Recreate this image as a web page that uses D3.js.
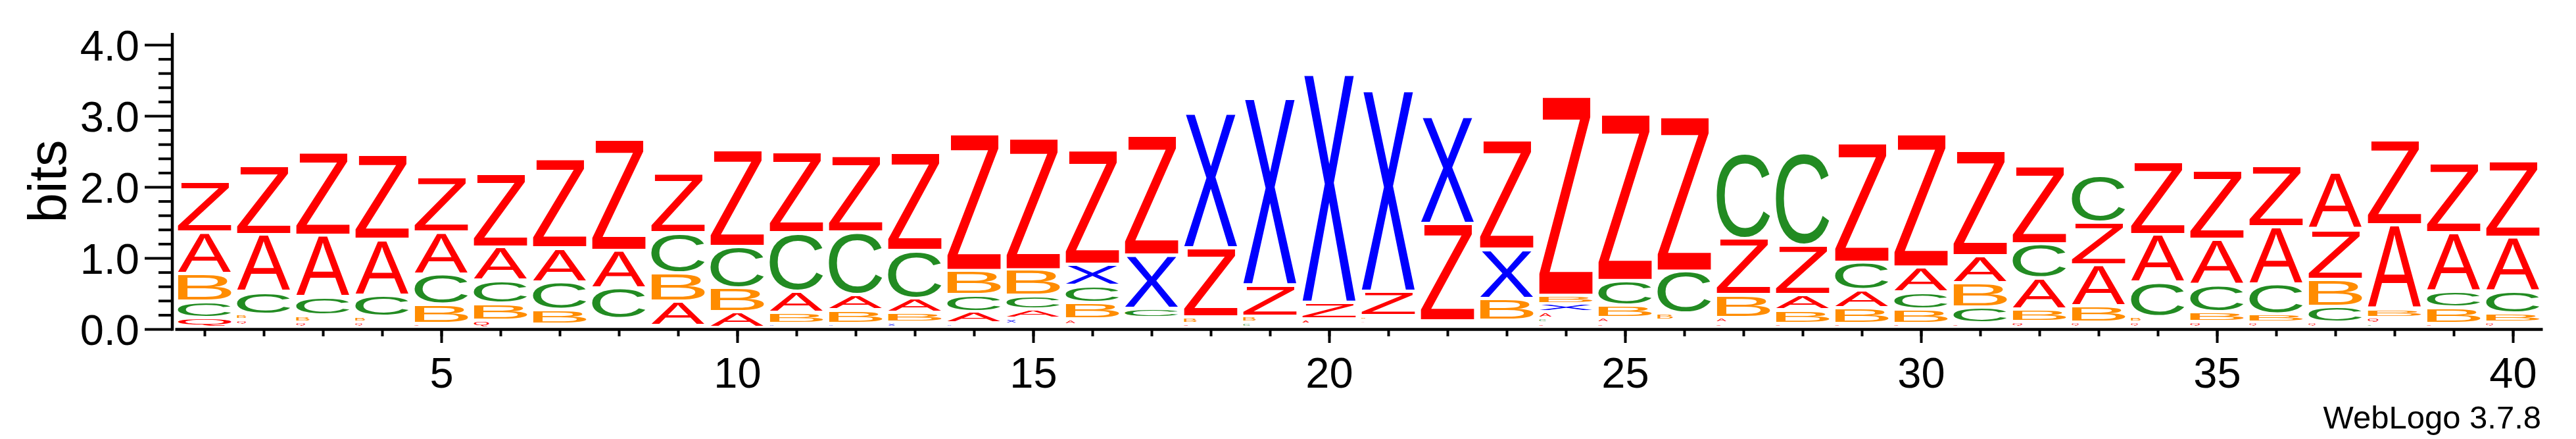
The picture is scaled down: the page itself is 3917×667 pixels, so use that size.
<!DOCTYPE html>
<html><head><meta charset="utf-8">
<script src="https://cdn.jsdelivr.net/npm/d3@7"></script>
<style>html,body{margin:0;padding:0;background:#fff;} svg{display:block;}</style>
</head><body>
<svg id="chart" width="3917" height="667"></svg>
<script>
// ---------- data ----------
const positions = [1,2,3,4,5,6,7,8,9,10,11,12,13,14,15,16,17,18,19,20,21,22,23,24,25,26,27,28,29,30,31,32,33,34,35,36,37,38,39,40];
const letters = ["Q","A","B","C","X","Z"];
const bitsZ = [.71,.97,1.17,1.20,.78,1.04,1.26,1.56,.84,1.36,1.14,1.08,1.39,1.93,1.86,1.61,1.69,.97,.44,.235,.345,1.37,1.54,2.81,2.35,2.18,.79,.70,1.68,1.88,1.48,1.10,.60,1.03,.97,.86,.70,1.20,.98,1.08];
const bitsA = [.58,.81,.874,.79,.59,.47,.48,.53,.34,.22,.30,.21,.20,.16,.13,.08,.05,0,0,.07,.055,.046,.051,.09,.08,.051,.08,.21,.25,.35,.38,.44,.58,.68,.64,.81,.80,1.18,.82,.76];
const bitsB = [.39,.078,.093,.08,.27,.235,.20,.051,.40,.34,.15,.19,.14,.34,.36,.23,.044,.09,.09,0,.06,0,.31,.116,.17,.10,.32,.19,.22,.20,.34,.18,.23,.08,.14,.12,.38,.12,.22,.13];
const bitsC = [.23,.315,.256,.30,.42,.325,.39,.43,.56,.58,.82,.88,.67,.24,.19,.24,.13,0,.07,0,0,0,0,.07,.35,.59,1.21,1.30,.39,.24,.23,.48,.65,.48,.38,.42,.23,.057,.23,.31];
const bitsX = [0,.03,0,0,0,0,0,.02,.03,0,.06,.06,.07,.06,.08,.30,.75,1.90,2.63,3.215,2.83,1.50,.69,.115,0,0,0,0,0,0,0,0,0,0,0,0,0,0,0,0];
const bitsQ = [.14,.077,.077,.07,.06,.10,.05,.05,0,0,0,0,0,0,.05,.04,.045,.06,0,.05,.05,.045,.05,.06,.06,.05,.06,.06,.06,.06,.06,.08,.07,.07,.08,.07,.07,.083,.06,.07];
const yMajor = [0,1,2,3,4];
const yMinor = [0.2,0.4,0.6,0.8,1.2,1.4,1.6,1.8,2.2,2.4,2.6,2.8,3.2,3.4,3.6,3.8];
const xMajor = [5,10,15,20,25,30,35,40];
const yLabel = "bits";
const fineprint = "WebLogo 3.7.8";
const colors = {Q:"#ff0000", A:"#ff0000", Z:"#ff0000", B:"#ff8c00", C:"#228b22", X:"#0000ff"};

// ---------- setup ----------
const heights = {Q:bitsQ, A:bitsA, B:bitsB, C:bitsC, X:bitsX, Z:bitsZ};
const FONT = "'Liberation Sans', Arial, Helvetica, sans-serif";
const svg = d3.select("#chart");
svg.append("rect").attr("width",3917).attr("height",667).attr("fill","#fff");

const x = d3.scaleLinear().domain([0.5, 40.5]).range([266, 3866]);
const y = d3.scaleLinear().domain([0, 4]).range([500, 68]);
const colW = x(1.5) - x(0.5);
const glyphW = colW * 0.9;
const gap = 5;

// glyph ink metrics
const REF = 200;
const ctx = document.createElement("canvas").getContext("2d");
ctx.font = REF + "px 'Liberation Sans'";
const metrics = {};
letters.forEach(l => {
  const m = ctx.measureText(l);
  metrics[l] = {L: m.actualBoundingBoxLeft, R: m.actualBoundingBoxRight, A: m.actualBoundingBoxAscent, D: m.actualBoundingBoxDescent};
});

// stacks (sorted smallest at bottom)
const glyphs = [];
positions.forEach((p, i) => {
  const items = letters.map(l => ({letter: l, h: heights[l][i], pos: p}))
    .filter(d => d.h > 0).sort((a, b) => a.h - b.h);
  let base = 0;
  items.forEach(d => { d.y0 = base; base += d.h; d.y1 = base; glyphs.push(d); });
});

const logo = svg.append("g");
logo.selectAll("text").data(glyphs.filter(d => (y(d.y0) - gap - y(d.y1)) > 0.8)).join("text")
  .text(d => d.letter)
  .attr("font-family", FONT)
  .attr("font-size", REF)
  .attr("fill", d => colors[d.letter])
  .attr("transform", d => {
    const m = metrics[d.letter];
    const top = y(d.y1);
    const gh = y(d.y0) - gap - top;
    const w = gh < 6 ? Math.min(glyphW, gh * 4) : glyphW;
    const left = x(d.pos) - glyphW / 2;
    const sx = w / (m.L + m.R), sy = gh / (m.A + m.D);
    return `translate(${left},${top}) scale(${sx},${sy}) translate(${m.L},${m.A})`;
  });

// ---------- axes ----------
const yAxisG = svg.append("g").attr("transform", "translate(262,0)");
yAxisG.append("g").call(d3.axisLeft(y).tickValues(yMinor).tickSize(21).tickFormat(""))
  .call(g => g.select(".domain").remove());
yAxisG.append("g").call(d3.axisLeft(y).tickValues(yMajor).tickSize(42).tickPadding(8).tickFormat(d3.format(".1f")))
  .call(g => g.select(".domain").remove())
  .call(g => g.selectAll("text").attr("dy", "0.36em").attr("font-size", 65).attr("font-family", FONT).attr("fill", "#000"));
yAxisG.selectAll(".tick line").attr("stroke", "#000").attr("stroke-width", 4);
yAxisG.append("line").attr("x1", 0).attr("x2", 0).attr("y1", y(0) + 2.5).attr("y2", y(4) - 18)
  .attr("stroke", "#000").attr("stroke-width", 4.5);

const xAxisG = svg.append("g").attr("transform", "translate(0,500)");
xAxisG.append("g").call(d3.axisBottom(x).tickValues(positions).tickSize(11).tickSizeOuter(0).tickFormat(""))
  .call(g => g.select(".domain").attr("stroke", "#000").attr("stroke-width", 4.5));
xAxisG.append("g").call(d3.axisBottom(x).tickValues(xMajor).tickSize(21).tickPadding(22).tickFormat(d3.format("d")))
  .call(g => g.select(".domain").remove())
  .call(g => g.selectAll("text").attr("font-size", 65).attr("font-family", FONT).attr("fill", "#000"));
xAxisG.selectAll(".tick line").attr("stroke", "#000").attr("stroke-width", 4);

svg.append("text").attr("transform", "translate(100,275.5) rotate(-90)")
  .attr("text-anchor", "middle").attr("font-family", FONT).attr("font-size", 81).attr("fill", "#000")
  .text(yLabel);

svg.append("text").attr("x", 3864).attr("y", 651).attr("text-anchor", "end")
  .attr("font-family", FONT).attr("font-size", 49).attr("fill", "#000").text(fineprint);
</script>
</body></html>
